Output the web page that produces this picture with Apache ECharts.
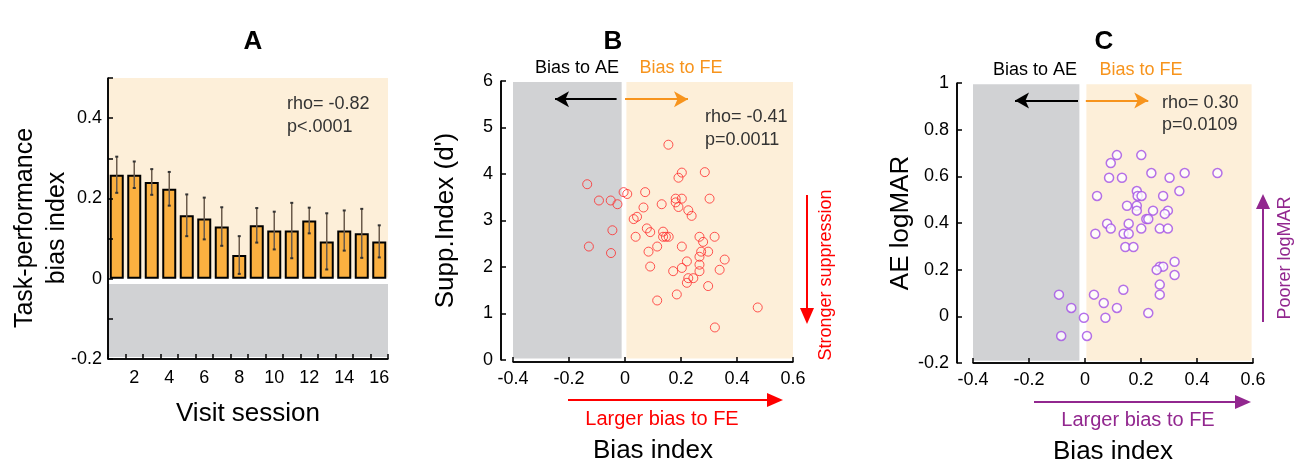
<!DOCTYPE html>
<html>
<head>
<meta charset="utf-8">
<script src="https://cdn.jsdelivr.net/npm/echarts@6/dist/echarts.min.js"></script>
<style>
html,body{margin:0;padding:0;background:#fff;}
#chart{width:1306px;height:464px;}
</style>
</head>
<body>
<div id="chart"></div>
<script>
// ---------- Data ----------
const sessions = ['1','2','3','4','5','6','7','8','9','10','11','12','13','14','15','16'];
const biasMean = [0.259,0.259,0.241,0.224,0.158,0.150,0.130,0.059,0.133,0.120,0.120,0.145,0.093,0.120,0.113,0.093];
const biasErr  = [0.045,0.033,0.032,0.042,0.052,0.052,0.048,0.047,0.043,0.047,0.069,0.032,0.070,0.050,0.061,0.040];

const suppBias = [0.155,0.203,0.191,0.285,-0.135,-0.093,-0.051,-0.027,-0.005,0.008,0.072,0.066,0.131,0.181,0.203,0.181,0.191,0.302,0.226,0.238,0.031,0.043,-0.045,-0.129,-0.050,0.078,0.090,0.038,0.136,0.136,0.146,0.156,0.115,0.084,0.090,0.203,0.266,0.279,0.320,0.272,0.297,0.266,0.356,0.221,0.203,0.266,0.172,0.266,0.338,0.226,0.244,0.221,0.297,0.185,0.115,0.474,0.321];
const suppIndex = [4.63,4.03,3.92,4.04,3.78,3.43,3.43,3.35,3.61,3.57,3.61,3.28,3.35,3.47,3.47,3.39,3.29,3.47,3.22,3.10,3.03,3.08,2.79,2.44,2.30,2.83,2.75,2.65,2.76,2.65,2.65,2.65,2.44,2.33,2.01,2.44,2.65,2.54,2.65,2.33,2.33,2.22,2.16,2.12,1.98,2.05,1.91,1.91,1.94,1.76,1.76,1.66,1.59,1.41,1.28,1.13,0.70];

const marBias = [0.114,0.201,0.092,0.237,0.356,0.473,0.086,0.132,0.302,0.337,0.043,0.185,0.188,0.202,0.279,0.150,0.185,0.185,0.243,0.296,0.285,0.219,0.226,0.079,0.092,0.156,0.201,0.267,0.296,0.037,0.138,0.156,0.144,0.173,0.320,0.267,0.279,0.256,0.320,0.267,0.267,0.137,-0.093,0.032,0.067,-0.049,0.114,0.226,-0.004,0.073,-0.085,0.007];
const aeLogMAR = [0.691,0.691,0.657,0.614,0.614,0.614,0.594,0.594,0.594,0.537,0.516,0.537,0.516,0.516,0.516,0.474,0.474,0.453,0.453,0.453,0.439,0.417,0.417,0.397,0.376,0.397,0.376,0.376,0.376,0.354,0.354,0.354,0.297,0.297,0.234,0.213,0.213,0.199,0.177,0.136,0.093,0.114,0.093,0.093,0.057,0.036,0.036,0.014,-0.006,-0.006,-0.084,-0.084];

const statsA = ['rho= -0.82','p<.0001'];
const statsB = ['rho= -0.41','p=0.0011'];
const statsC = ['rho= 0.30','p=0.0109'];

// axis extents: [xMin, yMin, xMax, yMax]
const extentA = [0, -0.2, 15, 0.5];
const extentB = [-0.4, 0, 0.6, 6];
const extentC = [-0.4, -0.2, 0.6, 1];

// ---------- Styles ----------
const FONT = 'Liberation Sans, Arial, Helvetica, sans-serif';
const BEIGE = '#FDEFD9';
const GRAY = '#D1D2D4';
const ORANGE = '#F7941D';
const PURPLE = '#92278F';

function fmt(v){
  const r = Math.round(v*10)/10;
  if (Math.abs(r) < 1e-9) return '0';
  if (Math.abs(r - Math.round(r)) < 1e-9) return String(Math.round(r));
  return r.toFixed(1);
}

const axLine = () => ({show:true, onZero:false, lineStyle:{color:'#000', width:1.5}});
const axTick = () => ({show:true, inside:true, length:5, lineStyle:{color:'#000', width:1.5}});
const labelStyle = () => ({color:'#000', fontSize:18, fontFamily:FONT});
const nameStyle = () => ({color:'#000', fontSize:26, fontFamily:FONT});

const scatterX = (gi, offY) => ({
  gridIndex: gi, type:'value', min:-0.4, max:0.6, interval:0.2, position:'bottom', z:10,
  axisLine: axLine(), axisTick: axTick(), splitLine:{show:false},
  axisLabel: Object.assign({formatter: fmt, margin:8}, labelStyle()),
  name:'Bias index', nameLocation:'middle', nameGap:76, nameTextStyle: nameStyle(),
  offset: offY
});

// spine series (axis lines) drawn through the axes' own scales
function spineSeries(xi, yi, ext, yOff, xOff, isCat){
  return {
    type:'custom', xAxisIndex:xi, yAxisIndex:yi, z:20, silent:true, clip:false,
    encode:{x:[0,2], y:[1,3]},
    data:[ext],
    renderItem:function(params, api){
      let p0 = api.coord([api.value(0), api.value(1)]);
      let p1 = api.coord([api.value(2), api.value(3)]);
      let left = p0[0], right = p1[0];
      if (isCat) {
        const band = api.size([1, 0])[0];
        left = p0[0] - band/2; right = p1[0] + band/2;
      }
      const st = {stroke:'#000', lineWidth:1.6};
      return {type:'group', children:[
        {type:'line', shape:{x1:left - yOff, y1:p0[1], x2:left - yOff, y2:p1[1]}, style:st},
        {type:'line', shape:{x1:left, y1:p0[1] + xOff, x2:right, y2:p0[1] + xOff}, style:st}
      ]};
    }
  };
}

const graphicList = [
  // panel A y-axis title (two lines)
  {type:'text', rotation:Math.PI/2, x:25, y:228, style:{text:'Task-performance', x:0, y:0, align:'center', verticalAlign:'middle', font:'25px '+FONT, fill:'#000'}},
  {type:'text', rotation:Math.PI/2, x:57, y:228, style:{text:'bias index', x:0, y:0, align:'center', verticalAlign:'middle', font:'25px '+FONT, fill:'#000'}},
  // panel titles
  {type:'text', style:{text:'A', x:253, y:42, align:'center', verticalAlign:'middle', font:'bold 26px '+FONT, fill:'#000'}},
  {type:'text', style:{text:'B', x:613, y:42, align:'center', verticalAlign:'middle', font:'bold 26px '+FONT, fill:'#000'}},
  {type:'text', style:{text:'C', x:1104, y:42, align:'center', verticalAlign:'middle', font:'bold 26px '+FONT, fill:'#000'}},
  // stats
  {type:'text', z:10, style:{text:statsA[0], x:287, y:104, verticalAlign:'middle', font:'18px '+FONT, fill:'#333'}},
  {type:'text', z:10, style:{text:statsA[1], x:287, y:127, verticalAlign:'middle', font:'18px '+FONT, fill:'#333'}},
  {type:'text', z:10, style:{text:statsB[0], x:705, y:117, verticalAlign:'middle', font:'18px '+FONT, fill:'#333'}},
  {type:'text', z:10, style:{text:statsB[1], x:705, y:140, verticalAlign:'middle', font:'18px '+FONT, fill:'#333'}},
  {type:'text', z:10, style:{text:statsC[0], x:1162, y:103, verticalAlign:'middle', font:'18px '+FONT, fill:'#333'}},
  {type:'text', z:10, style:{text:statsC[1], x:1162, y:125, verticalAlign:'middle', font:'18px '+FONT, fill:'#333'}},
  // bias labels
  {type:'text', style:{text:'Bias to AE', x:577, y:68, align:'center', verticalAlign:'middle', font:'18px '+FONT, fill:'#000'}},
  {type:'text', style:{text:'Bias to FE', x:681, y:68, align:'center', verticalAlign:'middle', font:'18px '+FONT, fill:ORANGE}},
  {type:'text', style:{text:'Bias to AE', x:1035, y:70, align:'center', verticalAlign:'middle', font:'18px '+FONT, fill:'#000'}},
  {type:'text', style:{text:'Bias to FE', x:1141, y:70, align:'center', verticalAlign:'middle', font:'18px '+FONT, fill:ORANGE}},
  // B right arrow + text
  {type:'line', shape:{x1:807, y1:195, x2:807, y2:310}, style:{stroke:'#FF0000', lineWidth:2}},
  {type:'polygon', shape:{points:[[800,308],[814,308],[807,324]]}, style:{fill:'#FF0000'}},
  {type:'text', rotation:Math.PI/2, x:826, y:275, style:{text:'Stronger suppression', x:0, y:0, align:'center', verticalAlign:'middle', font:'18px '+FONT, fill:'#FF0000'}},
  // B bottom arrow + text
  {type:'line', shape:{x1:568, y1:400, x2:770, y2:400}, style:{stroke:'#FF0000', lineWidth:2}},
  {type:'polygon', shape:{points:[[767,393],[767,407],[783,400]]}, style:{fill:'#FF0000'}},
  {type:'text', style:{text:'Larger bias to FE', x:662, y:419, align:'center', verticalAlign:'middle', font:'20px '+FONT, fill:'#FF0000'}},
  // C right arrow + text
  {type:'line', shape:{x1:1263, y1:322, x2:1263, y2:207}, style:{stroke:PURPLE, lineWidth:2}},
  {type:'polygon', shape:{points:[[1256,209],[1270,209],[1263,194]]}, style:{fill:PURPLE}},
  {type:'text', rotation:Math.PI/2, x:1285, y:258, style:{text:'Poorer logMAR', x:0, y:0, align:'center', verticalAlign:'middle', font:'18px '+FONT, fill:PURPLE}},
  // C bottom arrow + text
  {type:'line', shape:{x1:1034, y1:402, x2:1238, y2:402}, style:{stroke:PURPLE, lineWidth:2}},
  {type:'polygon', shape:{points:[[1235,395],[1235,409],[1251,402]]}, style:{fill:PURPLE}},
  {type:'text', style:{text:'Larger bias to FE', x:1138, y:420, align:'center', verticalAlign:'middle', font:'20px '+FONT, fill:PURPLE}}
];

const gridBase = {containLabel:false, outerBoundsMode:'none'};

const option = {
  animation:false,
  grid:[
    Object.assign({left:108, top:78, width:280, height:281}, gridBase),
    Object.assign({left:513, top:81, width:280, height:279}, gridBase),
    Object.assign({left:973, top:83, width:280, height:280}, gridBase)
  ],
  xAxis:[
    {gridIndex:0, type:'category', data:sessions, boundaryGap:true, position:'bottom', z:10,
     axisLine:axLine(),
     axisTick:{show:true, inside:true, length:5, interval:0, alignWithLabel:false, lineStyle:{color:'#000', width:1.5}},
     axisLabel:Object.assign({interval:function(i){return i%2===1;}, margin:10}, labelStyle()),
     name:'Visit session', nameLocation:'middle', nameGap:42, nameTextStyle:nameStyle()},
    scatterX(1, 2),
    scatterX(2, 0)
  ],
  yAxis:[
    {gridIndex:0, type:'value', min:-0.2, max:0.5, interval:0.1, position:'left', z:10,
     axisLine:axLine(), axisTick:axTick(), splitLine:{show:false},
     axisLabel:Object.assign({margin:6, formatter:function(v){
        const r = Math.round(v*10);
        if (r % 2 !== 0 || r > 4) return '';
        return fmt(v);
     }}, labelStyle())},
    {gridIndex:1, type:'value', min:0, max:6, interval:1, offset:12, position:'left', z:10,
     axisLine:axLine(), axisTick:axTick(), splitLine:{show:false},
     axisLabel:Object.assign({margin:8, formatter:fmt}, labelStyle()),
     name:"Supp.Index (d')", nameLocation:'middle', nameGap:42, nameRotate:90, nameTextStyle:nameStyle()},
    {gridIndex:2, type:'value', min:-0.2, max:1, interval:0.2, offset:16, position:'left', z:10,
     axisLine:axLine(), axisTick:axTick(), splitLine:{show:false},
     axisLabel:Object.assign({margin:8, formatter:fmt}, labelStyle()),
     name:'AE logMAR', nameLocation:'middle', nameGap:38, nameRotate:90, nameTextStyle:nameStyle()}
  ],
  series:[
    // Panel A backgrounds
    {type:'scatter', xAxisIndex:0, yAxisIndex:0, data:[], z:0, silent:true,
     markArea:{silent:true, data:[
       [{yAxis:0.003, itemStyle:{color:BEIGE}},{yAxis:0.5}],
       [{yAxis:-0.195, itemStyle:{color:GRAY}},{yAxis:-0.013}]
     ]}},
    {type:'bar', xAxisIndex:0, yAxisIndex:0, data:biasMean, barWidth:14, z:2,
     itemStyle:{color:'#FBB040', borderColor:'#000', borderWidth:2}},
    {type:'custom', xAxisIndex:0, yAxisIndex:0, z:3,
     data: biasMean.map((m,i)=>[i, m-biasErr[i], m+biasErr[i]]),
     renderItem:function(params, api){
       const lo = api.coord([api.value(0), api.value(1)]);
       const hi = api.coord([api.value(0), api.value(2)]);
       const c = '#6B5B4B';
       return {type:'group', children:[
         {type:'line', shape:{x1:lo[0], y1:lo[1], x2:hi[0], y2:hi[1]}, style:{stroke:c, lineWidth:1.5}},
         {type:'line', shape:{x1:lo[0]-1.5, y1:lo[1], x2:lo[0]+1.5, y2:lo[1]}, style:{stroke:'#333', lineWidth:2}},
         {type:'line', shape:{x1:hi[0]-1.5, y1:hi[1], x2:hi[0]+1.5, y2:hi[1]}, style:{stroke:'#333', lineWidth:2}}
       ]};
     }},
    // Panel B
    {type:'scatter', xAxisIndex:1, yAxisIndex:1, z:3,
     data: suppBias.map((x,i)=>[x, suppIndex[i]]),
     symbol:'circle', symbolSize:9,
     itemStyle:{color:'rgba(0,0,0,0)', borderColor:'#FF2A2A', borderWidth:1},
     markArea:{silent:true, data:[
       [{coord:[-0.4,0.03], itemStyle:{color:GRAY}},{coord:[-0.012,5.98]}],
       [{coord:[0.005,0.03], itemStyle:{color:BEIGE}},{coord:[0.6,5.98]}]
     ]},
     markLine:{silent:true, symbol:['none','arrow'], symbolSize:[12,14], label:{show:false},
       data:[
         [{coord:[-0.03,5.61], lineStyle:{color:'#000', width:2, type:'solid'}},{coord:[-0.25,5.61]}],
         [{coord:[0.0,5.61], lineStyle:{color:ORANGE, width:2, type:'solid'}},{coord:[0.225,5.61]}]
       ]}},
    // Panel C
    {type:'scatter', xAxisIndex:2, yAxisIndex:2, z:3,
     data: marBias.map((x,i)=>[x, aeLogMAR[i]]),
     symbol:'circle', symbolSize:9,
     itemStyle:{color:'#fff', borderColor:'#A24FE6', borderWidth:1.5},
     markArea:{silent:true, data:[
       [{coord:[-0.41,-0.19], itemStyle:{color:GRAY}},{coord:[-0.02,0.995]}],
       [{coord:[0.005,-0.19], itemStyle:{color:BEIGE}},{coord:[0.595,0.995]}]
     ]},
     markLine:{silent:true, symbol:['none','arrow'], symbolSize:[12,14], label:{show:false},
       data:[
         [{coord:[-0.025,0.925], lineStyle:{color:'#000', width:2, type:'solid'}},{coord:[-0.25,0.925]}],
         [{coord:[0.003,0.925], lineStyle:{color:ORANGE, width:2, type:'solid'}},{coord:[0.226,0.925]}]
       ]}},
    // axis spines
    spineSeries(0, 0, extentA, 0, 0, true),
    spineSeries(1, 1, extentB, 12, 2, false),
    spineSeries(2, 2, extentC, 16, 0, false)
  ],
  graphic: graphicList
};

const chart = echarts.init(document.getElementById('chart'), null, {renderer:'canvas'});
chart.setOption(option);
</script>
</body>
</html>
